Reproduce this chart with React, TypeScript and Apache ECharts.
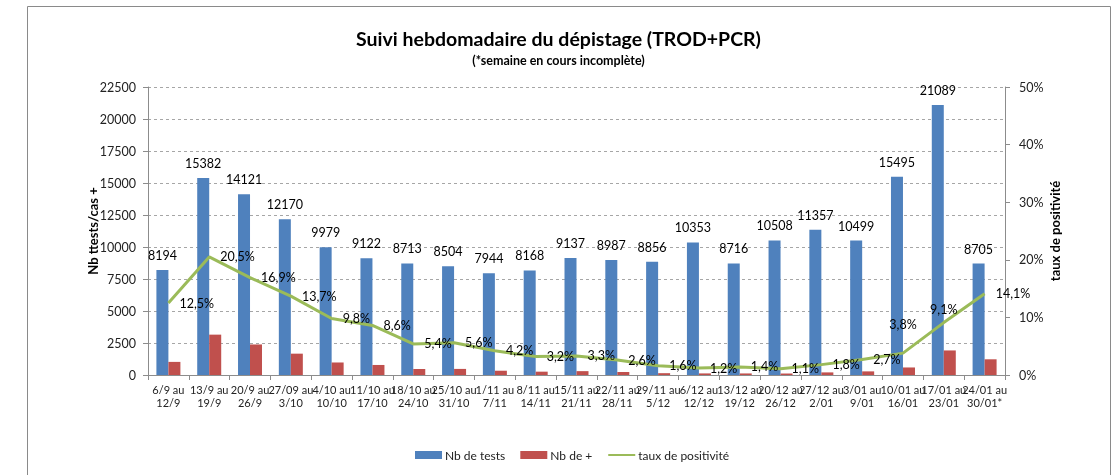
import React, { useEffect, useRef } from "react";
import * as echarts from "echarts";

const categories = [
  "6/9 au\n12/9", "13/9 au\n19/9", "20/9 au\n26/9", "27/09 au\n3/10", "4/10 au\n10/10",
  "11/10 au\n17/10", "18/10 au\n24/10", "25/10 au\n31/10", "1/11 au\n7/11", "8/11 au\n14/11",
  "15/11 au\n21/11", "22/11 au\n28/11", "29/11 au\n5/12", "6/12 au\n12/12", "13/12 au\n19/12",
  "20/12 au\n26/12", "27/12 au\n2/01", "3/01 au\n9/01", "10/01 au\n16/01", "17/01 au\n23/01",
  "24/01 au\n30/01*",
];
const nbTests = [8194, 15382, 14121, 12170, 9979, 9122, 8713, 8504, 7944, 8168, 9137, 8987, 8856, 10353, 8716, 10508, 11357, 10499, 15495, 21089, 8705];
const nbPositifs = [1024, 3153, 2386, 1667, 978, 784, 470, 476, 334, 261, 302, 234, 142, 124, 122, 116, 204, 283, 589, 1919, 1227];
const tauxPositivite = [0.125, 0.205, 0.169, 0.137, 0.098, 0.086, 0.054, 0.056, 0.042, 0.032, 0.033, 0.026, 0.016, 0.012, 0.014, 0.011, 0.018, 0.027, 0.038, 0.091, 0.141];
const leftTicks = { min: 0, max: 22500, interval: 2500 };
const rightTicks = { min: 0, max: 0.5, interval: 0.1 };
// label placement per point of the positivity line
const labelAbove = [18, 19];

const FONT = "Lato, 'Open Sans', sans-serif";

export default function App() {
  const ref = useRef<HTMLDivElement>(null);
  useEffect(() => {
    if (!ref.current) return;
    const chart = echarts.init(ref.current, null, { renderer: "svg" });
    const pct = (v: number) => (v * 100).toFixed(1).replace(".", ",") + "%";
    chart.setOption({
      animation: false,
      textStyle: { fontFamily: FONT },
      title: {
        text: "Suivi hebdomadaire du dépistage (TROD+PCR)",
        subtext: "(*semaine en cours incomplète)",
        left: "center",
        top: 22,
        itemGap: 4,
        textStyle: { fontFamily: FONT, fontSize: 19.5, fontWeight: "bold", color: "#000", lineHeight: 22 },
        subtextStyle: { fontFamily: FONT, fontSize: 12.5, fontWeight: "bold", color: "#000", lineHeight: 14 },
      },
      graphic: [
        {
          type: "rect",
          shape: { x: 27.5, y: 6.5, width: 1083, height: 480 },
          style: { fill: "none", stroke: "#8a8a8a", lineWidth: 1 },
          silent: true,
        },
      ],
      legend: {
        left: 410,
        top: 444,
        itemWidth: 27,
        itemHeight: 8,
        itemGap: 15,
        textStyle: { fontFamily: FONT, fontSize: 12, color: "#222", padding: [0, 0, 0, -2] },
        data: [
          { name: "Nb de tests", icon: "rect" },
          { name: "Nb de +", icon: "rect" },
          { name: "taux de positivité", itemStyle: { opacity: 0 } },
        ],
      },
      grid: { left: 148, right: 112, top: 87, bottom: 100 },
      xAxis: {
        type: "category",
        data: categories,
        axisLine: { lineStyle: { color: "#8c8c8c" } },
        axisTick: { show: true, length: 5, lineStyle: { color: "#8c8c8c" } },
        axisLabel: { interval: 0, fontSize: 11, lineHeight: 13, color: "#222", margin: 8, fontFamily: FONT },
      },
      yAxis: [
        {
          type: "value",
          ...leftTicks,
          name: "Nb ttests/cas +",
          nameLocation: "middle",
          nameGap: 49,
          nameMoveOverlap: false,
          nameTextStyle: { fontSize: 13, fontWeight: "bold", color: "#000", fontFamily: FONT },
          axisLine: { show: true, lineStyle: { color: "#8c8c8c" } },
          axisTick: { show: true, length: 5, lineStyle: { color: "#8c8c8c" } },
          axisLabel: { fontSize: 12.5, color: "#222", margin: 12, fontFamily: FONT, formatter: (v: number) => String(v) },
          splitLine: { show: true, lineStyle: { color: "#a6a6a6", type: [3, 3] } },
        },
        {
          type: "value",
          ...rightTicks,
          name: "taux de positivité",
          nameLocation: "middle",
          nameGap: 43,
          nameRotate: 90,
          nameMoveOverlap: false,
          nameTextStyle: { fontSize: 13, fontWeight: "bold", color: "#000", fontFamily: FONT },
          axisLine: { show: true, lineStyle: { color: "#8c8c8c" } },
          axisTick: { show: true, length: 5, lineStyle: { color: "#8c8c8c" } },
          axisLabel: { fontSize: 12.5, color: "#222", margin: 14, fontFamily: FONT, formatter: (v: number) => Math.round(v * 100) + "%" },
          splitLine: { show: false },
        },
      ],
      series: [
        {
          name: "Nb de tests",
          type: "bar",
          data: nbTests,
          barWidth: 12,
          barGap: "0%",
          itemStyle: { color: "#4F81BD" },
          label: { show: true, position: "top", distance: 8, fontSize: 12.5, color: "#000", fontFamily: FONT },
        },
        {
          name: "Nb de +",
          type: "bar",
          data: nbPositifs,
          barWidth: 12,
          barGap: "0%",
          itemStyle: { color: "#C0504D" },
        },
        {
          name: "taux de positivité",
          type: "line",
          yAxisIndex: 1,
          symbol: "circle",
          symbolSize: 0.1,
          itemStyle: { color: "#9BBB59" },
          lineStyle: { color: "#9BBB59", width: 3 },
          data: tauxPositivite.map((v, i) =>
            labelAbove.includes(i)
              ? { value: v, label: { position: "top", distance: i === 18 ? 22 : 7 } }
              : { value: v }
          ),
          label: {
            show: true,
            position: "right",
            distance: 11,
            fontSize: 12.5,
            color: "#000",
            fontFamily: FONT,
            formatter: (p: any) => pct(p.value),
          },
          z: 3,
        },
      ],
    });
    return () => chart.dispose();
  }, []);
  return <div ref={ref} style={{ position: "fixed", left: 0, top: 0, width: 1117, height: 475 }} />;
}
